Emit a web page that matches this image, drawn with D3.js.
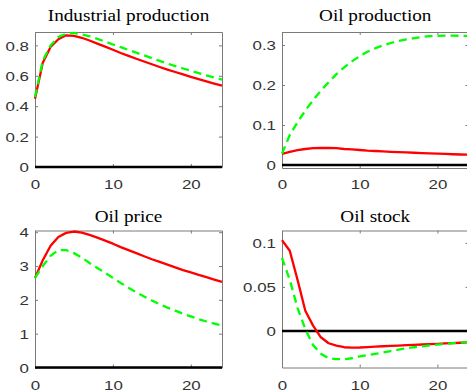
<!DOCTYPE html>
<html>
<head>
<meta charset="utf-8">
<script src="https://cdn.jsdelivr.net/npm/d3@7"></script>
<style>
  html, body { margin: 0; padding: 0; background: #fff; }
  svg { display: block; }
</style>
</head>
<body>
<svg id="chart" width="467" height="390"></svg>
<script>
// Impulse-response horizons
const horizon = [0,1,2,3,4,5,6,7,8,9,10,11,12,13,14,15,16,17,18,19,20,21,22,23,24];
const xTicks = [0, 10, 20];

// Industrial production
const ipSolid  = [0.449,0.685,0.79,0.84,0.866,0.862,0.85,0.832,0.812,0.792,0.771,0.75,0.731,0.712,0.694,0.676,0.658,0.641,0.625,0.609,0.593,0.578,0.563,0.549,0.535];
const ipDashed = [0.46,0.70,0.80,0.855,0.877,0.882,0.872,0.86,0.843,0.825,0.806,0.788,0.77,0.752,0.734,0.716,0.698,0.68,0.664,0.648,0.633,0.618,0.603,0.589,0.575];
const ipTicks  = [0, 0.2, 0.4, 0.6, 0.8];

// Oil production
const opSolid  = [0.028,0.033,0.037,0.040,0.042,0.0425,0.0425,0.042,0.040,0.039,0.0375,0.036,0.035,0.034,0.033,0.0322,0.0314,0.0306,0.0298,0.029,0.0283,0.0276,0.0269,0.0263,0.0257];
const opDashed = [0.028,0.075,0.107,0.136,0.162,0.186,0.207,0.227,0.244,0.259,0.272,0.283,0.292,0.299,0.305,0.310,0.314,0.317,0.320,0.322,0.323,0.3235,0.3235,0.323,0.3225];
const opTicks  = [0, 0.1, 0.2, 0.3];

// Oil price
const prSolid  = [2.65,3.17,3.6,3.86,3.98,4.02,3.99,3.92,3.84,3.75,3.66,3.56,3.47,3.38,3.29,3.2,3.12,3.04,2.96,2.88,2.81,2.74,2.67,2.6,2.53];
const prDashed = [2.65,3.0,3.3,3.47,3.47,3.38,3.25,3.09,2.94,2.8,2.65,2.5,2.36,2.22,2.1,1.98,1.87,1.77,1.68,1.59,1.51,1.43,1.36,1.3,1.24];
const prTicks  = [0, 1, 2, 3, 4];

// Oil stock
const stSolid  = [0.103,0.091,0.058,0.023,0.006,-0.0072,-0.014,-0.0167,-0.0185,-0.019,-0.0188,-0.0183,-0.0178,-0.0174,-0.017,-0.0166,-0.0162,-0.0158,-0.0154,-0.015,-0.0146,-0.0142,-0.0138,-0.0134,-0.013];
const stDashed = [0.083,0.058,0.026,0.002,-0.016,-0.026,-0.031,-0.032,-0.032,-0.031,-0.029,-0.0275,-0.026,-0.0245,-0.0228,-0.0212,-0.0198,-0.0185,-0.0175,-0.0165,-0.0155,-0.0146,-0.0138,-0.0132,-0.0126];
const stTicks  = [0, 0.05, 0.1];

const panels = [
  { title: "Industrial production", solid: ipSolid, dashed: ipDashed, ticks: ipTicks, yDomain: [0, 0.888],
    box: { left: 35, right: 222, top: 32, bottom: 167 } },
  { title: "Oil production", solid: opSolid, dashed: opDashed, ticks: opTicks, yDomain: [-0.0075, 0.3325],
    box: { left: 282, right: 468.5, top: 32, bottom: 168 } },
  { title: "Oil price", solid: prSolid, dashed: prDashed, ticks: prTicks, yDomain: [0, 4.05],
    box: { left: 35, right: 222, top: 230.5, bottom: 367.5 } },
  { title: "Oil stock", solid: stSolid, dashed: stDashed, ticks: stTicks, yDomain: [-0.0415, 0.114],
    box: { left: 282, right: 468.5, top: 230.5, bottom: 367.5 } }
];

const svg = d3.select("#chart");
const AX = "#7a7a7a";
const TXT = "#333";
const STRETCH = 1.3;

panels.forEach(p => {
  const b = p.box;
  const lower = b.top > 100;
  const x = d3.scaleLinear().domain([0, 24]).range([b.left, b.right]);
  const y = d3.scaleLinear().domain(p.yDomain).range([b.bottom, b.top]);
  const g = svg.append("g");

  // axes: ticks point inward on all four sides
  const styleAxis = sel => {
    sel.select(".domain").attr("stroke", AX).attr("stroke-width", 1);
    sel.selectAll(".tick line").attr("stroke", AX).attr("stroke-width", 1);
  };
  g.append("g").attr("transform", `translate(0,${b.bottom})`)
    .call(d3.axisBottom(x).tickValues(xTicks).tickSizeInner(-3).tickSizeOuter(0).tickPadding(0).tickFormat(d3.format("d")))
    .call(styleAxis)
    .call(s => s.selectAll(".tick text")
      .attr("y", null).attr("dy", null)
      .attr("transform", `translate(0,${(lower ? 389.5 : 188.5) - b.bottom}) scale(${STRETCH},1)`)
      .attr("fill", TXT).attr("font-family", "Liberation Sans, Arial, sans-serif").attr("font-size", 13));
  g.append("g").attr("transform", `translate(0,${b.top})`)
    .call(d3.axisTop(x).tickValues(xTicks).tickSizeInner(-3).tickSizeOuter(0).tickFormat(""))
    .call(styleAxis);
  g.append("g").attr("transform", `translate(${b.left},0)`)
    .call(d3.axisLeft(y).tickValues(p.ticks).tickSizeInner(-3).tickSizeOuter(0).tickFormat(d => d3.format("")(+d.toFixed(2))))
    .call(styleAxis)
    .call(s => s.selectAll(".tick text")
      .attr("x", null).attr("dy", "0.36em")
      .attr("transform", `translate(-6,0) scale(${STRETCH},1)`)
      .attr("fill", TXT).attr("font-family", "Liberation Sans, Arial, sans-serif").attr("font-size", 13));
  g.append("g").attr("transform", `translate(${b.right},0)`)
    .call(d3.axisRight(y).tickValues(p.ticks).tickSizeInner(-3).tickSizeOuter(0).tickFormat(""))
    .call(styleAxis);

  // zero reference line
  g.append("line")
    .attr("x1", x(0)).attr("x2", x(24))
    .attr("y1", y(0)).attr("y2", y(0))
    .attr("stroke", "#000").attr("stroke-width", 2.5);

  const line = d3.line().x((d, i) => x(horizon[i])).y(d => y(d));
  g.append("path").datum(p.solid).attr("d", line)
    .attr("fill", "none").attr("stroke", "#ff0000").attr("stroke-width", 2.3).attr("stroke-linejoin", "round");
  g.append("path").datum(p.dashed).attr("d", line)
    .attr("fill", "none").attr("stroke", "#00ff00").attr("stroke-width", 2.3).attr("stroke-dasharray", "8,5");

  // panel title
  g.append("text")
    .attr("transform", `translate(${(b.left + b.right) / 2},${lower ? 221.5 : 21}) scale(1.2,1)`)
    .attr("text-anchor", "middle")
    .attr("font-family", "Liberation Serif, Times New Roman, serif")
    .attr("font-weight", "normal")
    .attr("font-size", 16)
    .attr("fill", "#000")
    .text(p.title);
});
</script>
</body>
</html>
